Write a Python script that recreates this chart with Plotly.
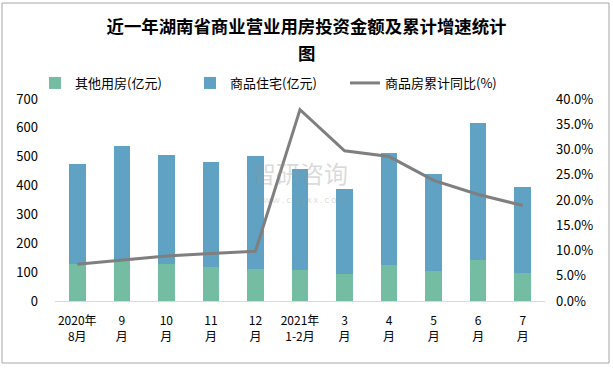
import plotly.graph_objects as go

categories = ["2020年<br>8月", "9<br>月", "10<br>月", "11<br>月", "12<br>月", "2021年<br>1-2月",
              "3<br>月", "4<br>月", "5<br>月", "6<br>月", "7<br>月"]
other_use = [127, 139, 128, 118, 110, 108, 94, 125, 104, 142, 97]
residential = [348, 399, 379, 365, 392, 350, 295, 389, 337, 474, 299]
yoy_growth = [0.0727, 0.0807, 0.089, 0.094, 0.0985, 0.379, 0.2975, 0.286, 0.239, 0.211, 0.189]
title_lines = ["近一年湖南省商业营业用房投资金额及累计增速统计", "图"]

FONT = "Noto Sans CJK SC"
W, H = 613, 368
ML, MR, MT, MB = 55, 68, 99, 67
PW, PH = W - ML - MR, H - MT - MB

fig = go.Figure()
fig.add_trace(go.Bar(x=categories, y=other_use, name="其他用房(亿元)",
                     marker=dict(color="#74BDA2", line=dict(width=0)), width=0.37))
fig.add_trace(go.Bar(x=categories, y=residential, name="商品住宅(亿元)",
                     marker=dict(color="#5FA2C3", line=dict(width=0)), width=0.37))
fig.add_trace(go.Scatter(x=categories, y=yoy_growth, name="商品房累计同比(%)", yaxis="y2",
                         mode="lines", line=dict(color="#7F7F7F", width=3)))

def px_x(p):
    return (p - ML) / PW

def px_y(p):
    return (H - MB - p) / PH

fig.update_layout(
    width=W, height=H,
    margin=dict(l=ML, r=MR, t=MT, b=MB),
    paper_bgcolor="white", plot_bgcolor="white",
    barmode="stack", bargap=0.63,
    font=dict(family=FONT, size=13, color="#000000"),
    title=dict(text="<b>" + title_lines[0] + "</b>",
               x=0.5, xanchor="center", y=1 - 27 / H, yanchor="middle",
               font=dict(family=FONT, size=17.4, color="#000000")),
    legend=dict(orientation="h", x=px_x(35), xanchor="left", y=px_y(68), yanchor="top",
                traceorder="normal",
                font=dict(family=FONT, size=13), entrywidth=110, itemwidth=30,
                bgcolor="rgba(0,0,0,0)"),
    xaxis=dict(showgrid=False, showline=True, linecolor="#D9D9D9", linewidth=1,
               ticks="", tickfont=dict(size=12), range=[-0.5, 10.5], ticklabelstandoff=9),
    yaxis=dict(range=[0, 700], dtick=100, showgrid=False, zeroline=False, showline=False,
               tickfont=dict(size=13), ticklabelstandoff=16),
    yaxis2=dict(range=[0, 0.4], dtick=0.05, tickformat=".1%", overlaying="y", side="right",
                showgrid=False, zeroline=False, showline=False, tickfont=dict(size=13),
                ticklabelstandoff=10),
    shapes=[dict(type="rect", xref="paper", yref="paper",
                 x0=px_x(2), x1=px_x(609), y0=px_y(363), y1=px_y(3),
                 line=dict(color="#A6A6A6", width=1), layer="above")],
    annotations=[
        dict(text="<b>" + title_lines[1] + "</b>", xref="paper", yref="paper",
             x=px_x(306), y=px_y(52), xanchor="center", yanchor="middle", showarrow=False,
             font=dict(family=FONT, size=17.4, color="#000000")),
        dict(text="智研咨询", xref="paper", yref="paper", x=px_x(300), y=px_y(172),
             xanchor="center", yanchor="middle",
             showarrow=False, font=dict(size=24, color="rgba(150,150,150,0.35)")),
        dict(text="w w w . c h y x x . c o m", xref="paper", yref="paper", x=px_x(300), y=px_y(199),
             xanchor="center", yanchor="middle",
             showarrow=False, font=dict(size=9, color="rgba(150,150,150,0.35)")),
    ],
)

fig.write_html("out.html", config={"displayModeBar": False},
               post_script="document.body.style.margin='0';")
